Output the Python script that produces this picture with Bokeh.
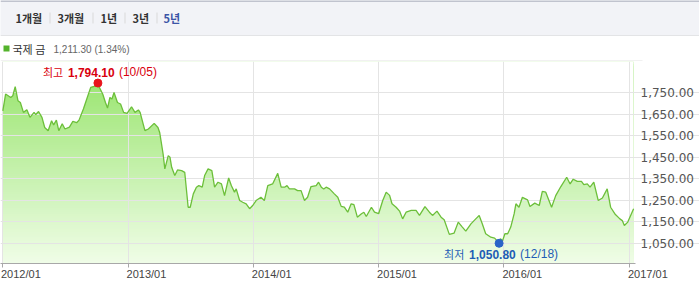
import numpy as np
import pandas as pd
from bokeh.plotting import figure
from bokeh.layouts import column
from bokeh.models import (Range1d, FixedTicker, NumeralTickFormatter, LinearAxis,
                          ColumnDataSource)
from bokeh.core.properties import value
from bokeh.embed import file_html
from bokeh.resources import INLINE

# ---------------- data ----------------
tabs = ["1개월", "3개월", "1년", "3년", "5년"]
series_name = "국제 금"
change_pct = "1.34%"

date_strs = [
    "2012-01-02", "2012-01-10", "2012-01-25", "2012-01-31", "2012-02-07", "2012-02-15", "2012-02-22",
    "2012-03-02", "2012-03-12", "2012-03-21", "2012-04-02", "2012-04-07", "2012-04-15", "2012-04-25",
    "2012-05-03", "2012-05-13", "2012-05-23", "2012-05-29", "2012-06-06", "2012-06-13", "2012-06-23",
    "2012-07-01", "2012-07-14", "2012-07-24", "2012-08-04", "2012-08-11", "2012-08-24", "2012-09-04",
    "2012-09-14", "2012-09-27", "2012-10-05", "2012-10-08", "2012-10-19", "2012-10-27", "2012-11-02",
    "2012-11-09", "2012-11-15", "2012-11-21", "2012-12-01", "2012-12-10", "2012-12-19", "2012-12-29",
    "2013-01-11", "2013-01-21", "2013-01-31", "2013-02-05", "2013-02-19", "2013-03-01", "2013-03-18",
    "2013-03-29", "2013-04-03", "2013-04-13", "2013-04-18", "2013-04-28", "2013-05-03", "2013-05-08",
    "2013-05-17", "2013-05-25", "2013-06-06", "2013-06-15", "2013-06-25", "2013-07-01", "2013-07-10",
    "2013-07-19", "2013-07-26", "2013-08-05", "2013-08-12", "2013-08-22", "2013-09-02", "2013-09-10",
    "2013-09-20", "2013-09-30", "2013-10-09", "2013-10-21", "2013-10-29", "2013-11-07", "2013-11-12",
    "2013-11-22", "2013-12-01", "2013-12-11", "2013-12-21", "2013-12-30",
    "2014-01-09", "2014-01-23", "2014-02-02", "2014-02-12", "2014-02-26", "2014-03-13", "2014-03-23",
    "2014-04-02", "2014-04-09", "2014-04-16", "2014-05-01", "2014-05-10", "2014-05-20", "2014-05-30",
    "2014-06-08", "2014-06-18", "2014-07-03", "2014-07-10", "2014-07-18", "2014-07-25", "2014-08-01",
    "2014-08-11", "2014-08-25", "2014-09-04", "2014-09-14", "2014-09-23", "2014-10-03", "2014-10-13",
    "2014-10-21", "2014-10-31", "2014-11-12", "2014-11-19", "2014-11-26", "2014-12-11", "2014-12-20",
    "2015-01-01", "2015-01-13", "2015-01-23", "2015-02-02", "2015-02-09", "2015-02-21", "2015-03-03",
    "2015-03-12", "2015-03-22", "2015-04-06", "2015-04-20", "2015-04-30", "2015-05-16", "2015-05-29",
    "2015-06-07", "2015-06-20", "2015-07-02", "2015-07-11", "2015-07-26", "2015-08-09", "2015-08-21",
    "2015-09-02", "2015-09-12", "2015-09-27", "2015-10-11", "2015-10-21", "2015-10-30", "2015-11-09",
    "2015-11-24", "2015-12-05", "2015-12-11", "2015-12-18", "2015-12-22", "2015-12-28",
    "2016-01-04", "2016-01-12", "2016-01-21", "2016-01-31", "2016-02-05", "2016-02-14", "2016-02-24",
    "2016-03-10", "2016-03-17", "2016-03-31", "2016-04-13", "2016-04-22", "2016-05-02", "2016-05-19",
    "2016-05-31", "2016-06-15", "2016-07-02", "2016-07-12", "2016-07-21", "2016-08-02", "2016-08-14",
    "2016-08-21", "2016-08-31", "2016-09-08", "2016-09-19", "2016-10-02", "2016-10-14", "2016-10-28",
    "2016-11-07", "2016-11-21", "2016-12-04", "2016-12-11", "2016-12-17", "2016-12-27", "2017-01-13",
]
prices = [
    1665, 1743, 1727, 1735, 1777, 1712, 1704,
    1658, 1670, 1635, 1658, 1648, 1662, 1635,
    1588, 1573, 1619, 1600, 1622, 1573, 1605,
    1581, 1590, 1616, 1610, 1622, 1675, 1727,
    1774, 1780, 1794.10, 1778, 1743, 1704, 1678,
    1727, 1720, 1750, 1704, 1697, 1658, 1653,
    1684, 1658, 1669, 1658, 1573, 1581, 1607,
    1588, 1565, 1465, 1396, 1457, 1450, 1403,
    1365, 1391, 1388, 1380, 1218, 1218, 1280,
    1311, 1318, 1311, 1365, 1396, 1388, 1311,
    1334, 1326, 1272, 1354, 1318, 1288, 1303,
    1249, 1241, 1234, 1211, 1226,
    1249, 1264, 1249, 1318, 1326, 1375, 1311,
    1311, 1318, 1303, 1303, 1295, 1295, 1249,
    1264, 1314, 1318, 1334, 1311, 1303, 1311,
    1303, 1280, 1264, 1222, 1218, 1195, 1234,
    1230, 1172, 1188, 1195, 1175, 1218, 1195,
    1188, 1249, 1288, 1273, 1234, 1218, 1200,
    1164, 1195, 1203, 1203, 1180, 1221, 1195,
    1180, 1200, 1172, 1160, 1092, 1098, 1149,
    1126, 1107, 1141, 1164, 1180, 1141, 1095,
    1079, 1075, 1064, 1050.80, 1072, 1062,
    1095, 1095, 1126, 1188, 1234, 1218, 1264,
    1252, 1221, 1237, 1226, 1292, 1288, 1218,
    1272, 1314, 1357, 1326, 1348, 1338, 1338,
    1323, 1326, 1311, 1334, 1249, 1261, 1303,
    1218, 1184, 1164, 1156, 1133, 1149, 1211.30,
]
x_tick_labels = ["2012/01", "2013/01", "2014/01", "2015/01", "2016/01", "2017/01"]
y_ticks = [1050, 1150, 1250, 1350, 1450, 1550, 1650, 1750]

# ---------------- derived ----------------
dates = pd.to_datetime(date_strs)
vals = np.array(prices, dtype=float)
x_tick_ms = [int(pd.Timestamp(s.replace("/", "-") + "-01").value // 10**6) for s in x_tick_labels]

W = 699
PLOT_W = 635                                   # width of the data area (px)
x_start_ms = pd.Timestamp("2011-12-26 04:00").value // 10**6
x_data_end_ms = pd.Timestamp("2017-01-18 12:00").value // 10**6
ms_per_px = (x_data_end_ms - x_start_ms) / PLOT_W
x_full_end_ms = x_start_ms + W * ms_per_px       # canvas-wide frame, axis sits at PLOT_W
y_lo, y_hi = 957.0, 1894.0

FONT_KR = value("Noto Sans CJK KR")
FONT_NUM = value("Liberation Sans")


def header_fig(height, fill):
    f = figure(width=W, height=height, x_range=Range1d(0, W), y_range=Range1d(height, 0),
               toolbar_location=None, output_backend="svg", min_border=0,
               x_axis_location=None, y_axis_location=None)
    f.grid.visible = False
    f.outline_line_color = None
    f.background_fill_color = fill
    f.border_fill_color = fill
    return f

# ---------------- tab bar ----------------
t = header_fig(36, "#f2f3f7")
t.segment(x0=[0], y0=[0.5], x1=[W], y1=[0.5], line_color="#8d93a5", line_width=1)
t.segment(x0=[0], y0=[35.5], x1=[W], y1=[35.5], line_color="#d4d4d4", line_width=1)
t.segment(x0=[49.5, 92.5, 124.5, 156.5], y0=[12] * 4, x1=[49.5, 92.5, 124.5, 156.5], y1=[23] * 4,
          line_color="#d9d9d9", line_width=1)
t.text(x=[15, 57, 100, 132, 163], y=[17.5] * 5, text=tabs, text_font=FONT_KR,
       text_font_size="11px", text_font_style="bold",
       text_color=["#333333"] * 4 + ["#3b55a6"], text_baseline="middle", text_align="left")

# ---------------- legend row ----------------
g = header_fig(25, "white")
g.quad(left=[3], right=[9], top=[9], bottom=[15], fill_color="#54b32c", line_color=None)
g.text(x=[12], y=[12.5], text=[series_name], text_font=FONT_KR, text_font_size="11px",
       text_color="#333333", text_baseline="middle", text_align="left")
g.text(x=[53], y=[12.5], text=[f"{vals[-1]:,.2f} ({change_pct})"], text_font=FONT_NUM,
       text_font_size="10px", text_color="#666666", text_baseline="middle", text_align="left")
g.segment(x0=[0], y0=[24.5], x1=[642], y1=[24.5], line_color="#e2e2e2", line_width=1)

# ---------------- main chart ----------------
p = figure(width=W, height=226, x_axis_type="datetime", y_axis_location="right",
           x_range=Range1d(x_start_ms, x_full_end_ms), y_range=Range1d(y_lo, y_hi),
           toolbar_location=None, output_backend="svg",
           min_border_left=0, min_border_right=0, min_border_top=0, min_border_bottom=24)
p.outline_line_color = None
p.background_fill_color = "white"
p.border_fill_color = "white"

# gradient fill: nested bands, then white mask above the price line
N = 90
tops = np.linspace(y_lo, y_hi, N + 1)[1:][::-1]
c_top = np.array([148, 227, 103])
c_bot = np.array([240, 253, 232])
cols = []
for tp in tops:
    f = (tp - y_lo) / (y_hi - y_lo)
    c = (c_bot + f * (c_top - c_bot)).round().astype(int)
    cols.append("#%02x%02x%02x" % tuple(c))
band_src = ColumnDataSource(dict(left=[dates[0]] * N, right=[dates[-1]] * N,
                                 bottom=[y_lo - 10] * N, top=list(tops), color=cols))
p.quad(left="left", right="right", bottom="bottom", top="top", fill_color="color",
       line_color=None, source=band_src, level="underlay")
p.varea(x=dates, y1=vals, y2=y_hi + 20, fill_color="white", level="underlay")

# grid
p.xgrid.ticker = FixedTicker(ticks=x_tick_ms)
p.ygrid.ticker = FixedTicker(ticks=y_ticks)
p.ygrid.bounds = (x_start_ms, x_data_end_ms)
p.grid.grid_line_color = "#e4e4e4"
p.grid.grid_line_width = 1
p.grid.level = "glyph"

# x axis: line + ticks (labels drawn by a second axis, shifted so they start at the tick)
xa = p.xaxis[0]
xa.ticker = FixedTicker(ticks=x_tick_ms)
xa.bounds = (x_start_ms, x_data_end_ms)
xa.major_label_overrides = {ms: "" for ms in x_tick_ms}
xa.major_label_text_font_size = "1px"
xa.major_label_standoff = 0
xa.axis_line_color = "#a8a8a8"
xa.major_tick_line_color = "#a8a8a8"
xa.major_tick_out = 4
xa.major_tick_in = 0
xa.minor_tick_line_color = None
xa.minor_tick_out = 0

label_w_px = 39.75                      # width of "2012/01" at 11px
shift_ms = (label_w_px / 2 - 1.5) * ms_per_px
p.extra_x_ranges = {"lbl": Range1d(x_start_ms - shift_ms, x_full_end_ms - shift_ms)}
xl = LinearAxis(x_range_name="lbl", ticker=FixedTicker(ticks=x_tick_ms),
                major_label_overrides=dict(zip(x_tick_ms, x_tick_labels)))
xl.axis_line_color = None
xl.major_tick_line_color = None
xl.minor_tick_line_color = None
xl.major_tick_out = 0
xl.major_tick_in = 0
xl.minor_tick_out = 0
xl.minor_tick_in = 0
xl.major_label_standoff = 0
xl.major_label_text_font = "Liberation Sans"
xl.major_label_text_font_size = "11px"
xl.major_label_text_color = "#444444"
p.add_layout(xl, "below")

# y axis on the right edge of the data area
ya = p.yaxis[0]
ya.fixed_location = x_data_end_ms
ya.ticker = FixedTicker(ticks=y_ticks)
ya.formatter = NumeralTickFormatter(format="0,0.00")
ya.axis_line_color = None
ya.major_tick_line_color = None
ya.minor_tick_line_color = None
ya.major_tick_out = 0
ya.major_tick_in = 0
ya.major_label_text_font = "DejaVu Sans"
ya.major_label_text_font_size = "12px"
ya.major_label_text_color = "#555555"
ya.major_label_standoff = 5

# price line
p.line(x=dates, y=vals, line_color="#6cbf3a", line_width=1.3, level="annotation")

# max / min markers and labels
i_max = int(np.argmax(vals))
i_min = int(np.argmin(vals))
d_max, v_max = dates[i_max], vals[i_max]
d_min, v_min = dates[i_min], vals[i_min]

red = "#d9000d"
blue = "#1f5db5"
p.scatter(x=[d_max], y=[v_max], size=8, color="#e8141c", level="overlay")
p.scatter(x=[d_min], y=[v_min], size=8, color="#2a64c8", level="overlay")


def marker_label(d, v, yoff, color, date_text, value_text, prefix):
    p.text(x=[d], y=[v], text=[prefix], x_offset=-55, y_offset=yoff, text_font=FONT_KR,
           text_font_size="11px", text_color=color, text_baseline="middle", text_align="left",
           level="overlay")
    p.text(x=[d], y=[v], text=[value_text], x_offset=-30, y_offset=yoff, text_font=FONT_NUM,
           text_font_size="12px", text_font_style="bold", text_color=color,
           text_baseline="middle", text_align="left", level="overlay")
    p.text(x=[d], y=[v], text=[date_text], x_offset=21, y_offset=yoff, text_font=FONT_NUM,
           text_font_size="12px", text_color=color, text_baseline="middle", text_align="left",
           level="overlay")


marker_label(d_max, v_max, -11, red, d_max.strftime("(%m/%d)"), f"{v_max:,.2f}", "최고")
marker_label(d_min, v_min, 11, blue, d_min.strftime("(%m/%d)"), f"{v_min:,.2f}", "최저")

layout = column(t, g, p, spacing=0)
open("out.html", "w").write(file_html(layout, INLINE))
